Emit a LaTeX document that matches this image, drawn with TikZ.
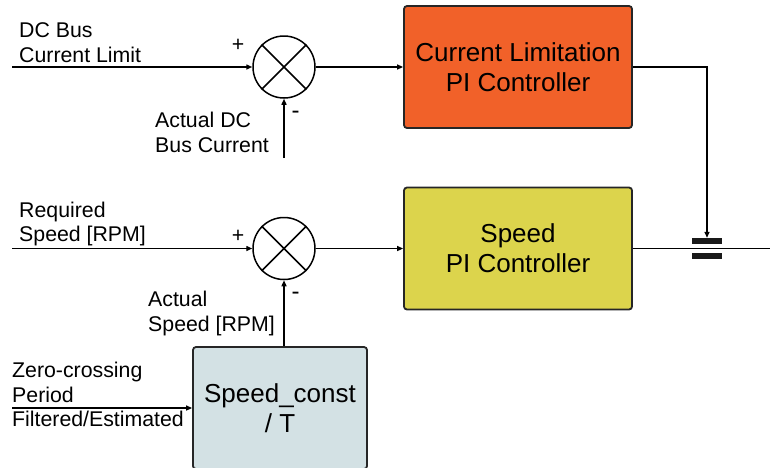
\documentclass[tikz,border=0pt]{standalone}
\usepackage{fontspec}
\setmainfont{Liberation Sans}
\usetikzlibrary{arrows.meta}
\definecolor{limorange}{HTML}{F16129}
\definecolor{spdyellow}{HTML}{DCD44C}
\definecolor{cstblue}{HTML}{D3E1E4}
\begin{document}
\begin{tikzpicture}[x=1pt, y=-1pt,
    sumnode/.style={circle, draw, line width=1.5pt, minimum size=62pt, inner sep=0pt},
    blockbox/.style={draw=black!85, line width=1.8pt, rounded corners=3pt, minimum width=228pt, minimum height=122pt, align=center, font=\fontsize{26}{30}\selectfont},
    lbl/.style={align=left, inner sep=0pt, font=\fontsize{21.3}{24.8}\selectfont},
    sgn/.style={inner sep=0pt, font=\fontsize{24}{24}\selectfont},
    sig/.style={line width=1.4pt, -{Triangle[length=6pt, width=5pt]}}]
    \useasboundingbox (0,0) rectangle (770,467);
    \clip (0,0) rectangle (770,467);

    % Summing junctions
    \node[sumnode] (sumI) at (284,67) {};
    \draw[line width=1.5pt] (sumI.north west) -- (sumI.south east) (sumI.north east) -- (sumI.south west);
    \node[sumnode] (sumS) at (284,248.5) {};
    \draw[line width=1.5pt] (sumS.north west) -- (sumS.south east) (sumS.north east) -- (sumS.south west);

    % Controller blocks
    \node[blockbox, fill=limorange] (limPI) at (518,67) {Current Limitation\\PI Controller};
    \node[blockbox, fill=spdyellow] (spdPI) at (518,248.5) {Speed\\PI Controller};
    \node[blockbox, fill=cstblue, minimum width=174pt] (cst) at (280,408) {Speed\_const\\/ T};

    % Signals
    \coordinate (inI) at (12,67);
    \coordinate (fbI) at (284,158);
    \coordinate (inS) at (12,248.5);
    \coordinate (inZ) at (12,408);
    \coordinate (outS) at (770,248.5);
    \draw[sig] (inI) -- (sumI);
    \draw[sig] (fbI) -- (sumI);
    \draw[sig] (sumI) -- (limPI);
    \draw[sig] (inS) -- (sumS);
    \draw[sig] (sumS) -- (spdPI);
    \draw[sig] (inZ) -- (cst);
    \draw[sig] (cst.north -| sumS) -- (sumS);

    % Output clamp
    \node[fill=black!90, minimum width=30pt, minimum height=6pt, inner sep=0pt] (clampTop) at (707,241) {};
    \node[fill=black!90, minimum width=30pt, minimum height=6pt, inner sep=0pt] (clampBot) at (707,256) {};
    \draw[line width=1.4pt] (spdPI) -- (outS);
    \draw[sig] (limPI.east) -| (clampTop.north);

    % Labels
    \node[lbl, anchor=west] (lDC) at (19,42.5) {DC Bus\\Current Limit};
    \node[lbl] (plusI) at (238,45.5) {+};
    \node[sgn] (minusI) at (295.5,115) {-};
    \node[lbl, anchor=west] (lAct) at (155,132.5) {Actual DC\\Bus Current};
    \node[lbl, anchor=west] (lReq) at (19,224) {Required\\Speed [RPM]};
    \node[lbl] (plusS) at (238,236.5) {+};
    \node[sgn] (minusS) at (295.5,295.5) {-};
    \node[lbl, anchor=west] (lActS) at (148,313.5) {Actual\\Speed [RPM]};
    \node[lbl, anchor=west] (lZc) at (12,382) {Zero-crossing\\Period};
    \node[lbl, anchor=west] (lFilt) at (12,419) {Filtered/Estimated};
\end{tikzpicture}
\end{document}
